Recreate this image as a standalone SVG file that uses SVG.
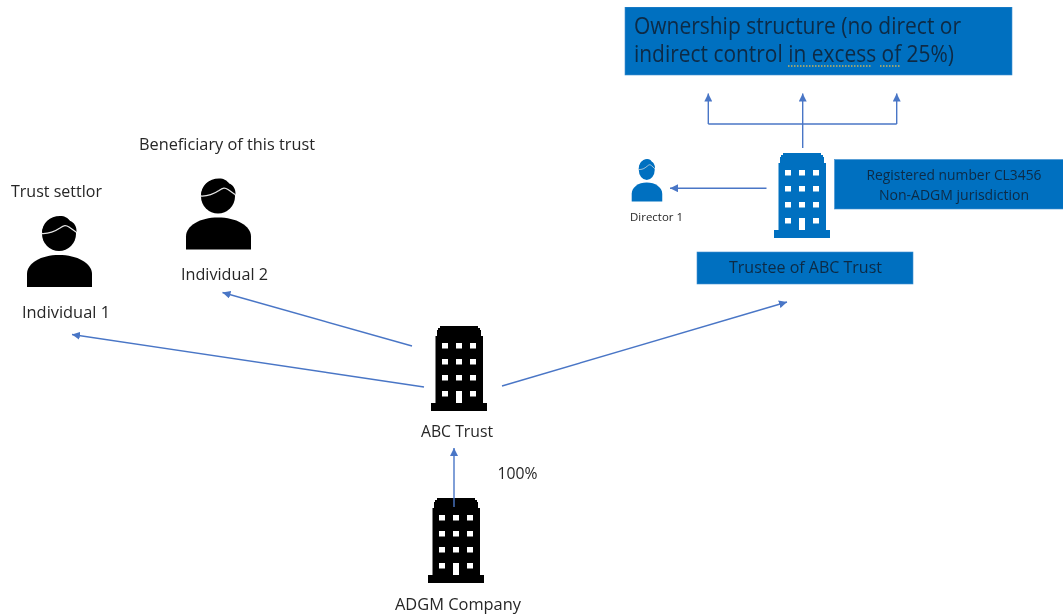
<svg xmlns="http://www.w3.org/2000/svg" width="1063" height="616" viewBox="0 0 1063 616">
<style>
text{font-family:"Open Sans","Noto Sans","Liberation Sans",sans-serif;fill:#262626;font-size:16.5px}
.box{fill:#0070C0;stroke:#3f8fd0;stroke-width:.6}
.on{fill:#0b2a45}
.c{fill:none;stroke:#4a76c6;stroke-width:1.4}
.a{marker-end:url(#ah)}
</style>
<defs>
<filter id="soft" x="0" y="0" width="100%" height="100%"><feGaussianBlur stdDeviation="0.35"/></filter>
<marker id="ah" markerUnits="userSpaceOnUse" markerWidth="9" markerHeight="8" refX="8" refY="4" orient="auto"><path d="M0 0L8 4L0 8Z" fill="#4a76c6"/></marker>
<symbol id="bld" overflow="visible">
<path fill-rule="evenodd" d="M9 0H47V2H49V4H50V10H52V77H56V85H0V77H4.500V10H6V4H7V2H9ZM11 17V22.500H17V17ZM25 17V22.500H31V17ZM39 17V22.500H45V17ZM11 33V38.500H17V33ZM25 33V38.500H31V33ZM39 33V38.500H45V33ZM11 49V54.500H17V49ZM25 49V54.500H31V49ZM39 49V54.500H45V49ZM11 65V70.500H17V65ZM25 65V77H31V65ZM39 65V70.500H45V65Z"/>
</symbol>
<symbol id="psn" overflow="visible">
<circle cx="32" cy="18" r="17"/>
<path d="M15 17C15 7 23 0 33 0C38 0 41 2 43 5C47 6 50 11 49.500 16L42 11L31 17Z"/>
<path d="M0 71V58C0 47 14 39 32 39C50 39 65 47 65 58V71Z"/>
<path d="M14.500 17.500C22 18 27 16 33 12C37 9 39 9 42 11L49 16" fill="none" stroke="#e4e4e4" stroke-width="1.300"/>
</symbol>
</defs>
<rect width="1063" height="616" fill="#fff"/>
<g filter="url(#soft)">
<g id="ownership">
<rect class="box" x="625" y="7" width="387" height="68"/>
<text class="on" x="634" y="33.500" style="font-size:23px" textLength="327" lengthAdjust="spacingAndGlyphs">Ownership structure (no direct or</text>
<text class="on" x="634" y="61.500" style="font-size:23px" textLength="320" lengthAdjust="spacingAndGlyphs">indirect control in excess of 25%)</text>
<path d="M788 66H872M880 66H900" fill="none" stroke="#c9b15a" stroke-width="1.500" stroke-dasharray="1.500 1.500"/>
</g>
<g id="registered">
<rect class="box" x="834.500" y="159.500" width="229" height="49.500"/>
<text class="on" x="866.500" y="180" style="font-size:14.500px" textLength="175" lengthAdjust="spacingAndGlyphs">Registered number CL3456</text>
<text class="on" x="879" y="199.500" style="font-size:14.500px" textLength="150" lengthAdjust="spacingAndGlyphs">Non-ADGM jurisdiction</text>
</g>
<g id="trustee">
<use href="#bld" x="774" y="153" fill="#0070C0"/>
<rect class="box" x="697" y="252" width="216" height="32"/>
<text class="on" x="729" y="273" textLength="153" lengthAdjust="spacingAndGlyphs">Trustee of ABC Trust</text>
</g>
<g id="director">
<use href="#psn" transform="translate(631.700 159) scale(.47 .6)" fill="#0070C0"/>
<text x="630" y="220.500" style="font-size:11px" textLength="53" lengthAdjust="spacingAndGlyphs">Director 1</text>
</g>
<g id="individual1">
<text x="11" y="197" textLength="91" lengthAdjust="spacingAndGlyphs">Trust settlor</text>
<use href="#psn" x="27" y="216"/>
<text x="22" y="318" textLength="88" lengthAdjust="spacingAndGlyphs">Individual 1</text>
</g>
<g id="individual2">
<text x="139" y="150" textLength="176" lengthAdjust="spacingAndGlyphs">Beneficiary of this trust</text>
<use href="#psn" x="186" y="178.500"/>
<text x="181" y="280" textLength="87" lengthAdjust="spacingAndGlyphs">Individual 2</text>
</g>
<g id="abc-trust">
<use href="#bld" x="431" y="326"/>
<text x="421" y="437" textLength="72" lengthAdjust="spacingAndGlyphs">ABC Trust</text>
</g>
<g id="adgm-company">
<use href="#bld" x="428" y="498"/>
<text x="395" y="610" textLength="126" lengthAdjust="spacingAndGlyphs">ADGM Company</text>
</g>
<text id="pct" x="497.500" y="479" textLength="40" lengthAdjust="spacingAndGlyphs">100%</text>
<g id="connectors">
<path class="c a" d="M424 387L72 334.500"/>
<path class="c a" d="M412 346L222.500 292.500"/>
<path class="c a" d="M502 386L787 302"/>
<path class="c a" d="M454 507V448"/>
<path class="c a" d="M766.500 188.200H670"/>
<path class="c a" d="M802.700 148V93.500"/>
<path class="c a" d="M708.300 124V93.500"/>
<path class="c a" d="M896.700 124V93.500"/>
<path class="c" d="M708.300 124H896.700"/>
</g>
</g>
</svg>
